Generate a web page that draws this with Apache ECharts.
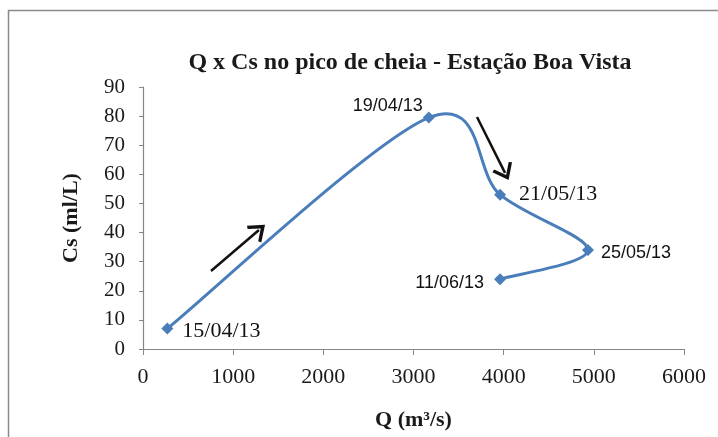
<!DOCTYPE html>
<html><head><meta charset="utf-8">
<script src="https://cdn.jsdelivr.net/npm/echarts@6/dist/echarts.min.js"></script>
<style>html,body{margin:0;padding:0;background:#fff}#c{width:718px;height:437px}</style>
</head><body><div id="c"></div>
<script>
const dates = ['15/04/13','19/04/13','21/05/13','25/05/13','11/06/13'];
const qValues = [270, 3170, 3960, 4935, 3960];
const csValues = [7, 79.5, 53, 34, 24];
const xTicks = [0,1000,2000,3000,4000,5000,6000];
const yTicks = [0,10,20,30,40,50,60,70,80,90];
const upArrow = [[754, 26.8], [1286, 40.9]];
const downArrow = [[3704, 79.7], [4015, 60.5]];

const serif = '"Liberation Serif","Times New Roman",serif';
const sans = '"Liberation Sans","Arial",sans-serif';
const lineColor = '#4a7ebb';
const labelCfg = [
  {position:'right', distance:9, offset:[0,3], fontFamily:serif, fontSize:22},
  {position:'left', distance:0, offset:[0,-12], fontFamily:sans, fontSize:18},
  {position:'right', distance:13, offset:[0,0], fontFamily:serif, fontSize:22},
  {position:'right', distance:7, offset:[0,3], fontFamily:sans, fontSize:18},
  {position:'left', distance:10, offset:[0,4], fontFamily:sans, fontSize:18}
];
const points = qValues.map((q,i)=>[q, csValues[i]]);
const labeled = points.map((p,i)=>({value:p, label:Object.assign({show:true, formatter:dates[i], color:'#111'}, labelCfg[i])}));
const chevron = 'path://M5,0 L10,8.6 L8.7,9.6 L5,3.4 L1.3,9.6 L0,8.6 Z';
function arrowLine(a){return [{coord:a[0], symbol:'none'},{coord:a[1], symbol:chevron, symbolSize:[22,16]}];}

// Excel-style smoothed curve (Catmull-Rom, tension 1/6) through the points, using the chart's own scales
function renderCurve(params, api){
  if (params.dataIndex !== 0) return null;
  const pts = points.map(p=>api.coord(p));
  const n = pts.length, children = [];
  for (let i=0;i<n-1;i++){
    const p0 = pts[Math.max(i-1,0)], p1 = pts[i], p2 = pts[i+1], p3 = pts[Math.min(i+2,n-1)];
    children.push({type:'bezierCurve', shape:{
      x1:p1[0], y1:p1[1], x2:p2[0], y2:p2[1],
      cpx1:p1[0]+(p2[0]-p0[0])/6, cpy1:p1[1]+(p2[1]-p0[1])/6,
      cpx2:p2[0]-(p3[0]-p1[0])/6, cpy2:p2[1]-(p3[1]-p1[1])/6},
      style:{stroke:lineColor, lineWidth:3, fill:'none', lineCap:'round'}});
  }
  return {type:'group', children};
}

const chart = echarts.init(document.getElementById('c'));
chart.setOption({
  backgroundColor:'#fff',
  animation:false,
  title:{text:'Q x Cs no pico de cheia - Estação Boa Vista', left:405, top:46, textAlign:'center',
    textStyle:{fontFamily:serif, fontWeight:'bold', fontSize:24, color:'#1a1a1a'}},
  grid:{left:143, right:34, top:87, bottom:88},
  graphic:[{type:'rect', shape:{x:8.5,y:10.5,width:720,height:440}, style:{fill:'none', stroke:'#8a8a8a', lineWidth:1.5}}],
  xAxis:{type:'value', min:0, max:6000, interval:1000,
    name:'Q (m³/s)', nameLocation:'middle', nameGap:60,
    nameTextStyle:{fontFamily:serif, fontWeight:'bold', fontSize:22, color:'#1a1a1a'},
    axisLine:{show:true, lineStyle:{color:'#868686', width:1.2}},
    axisTick:{show:true, length:6, lineStyle:{color:'#868686'}},
    axisLabel:{fontFamily:serif, fontSize:22, color:'#1a1a1a', margin:17, formatter:v=>String(v)},
    splitLine:{show:false}},
  yAxis:{type:'value', min:0, max:90, interval:10,
    name:'Cs (ml/L)', nameLocation:'middle', nameGap:61, nameRotate:90,
    nameTextStyle:{fontFamily:serif, fontWeight:'bold', fontSize:22, color:'#1a1a1a'},
    axisLine:{show:true, lineStyle:{color:'#868686', width:1.2}},
    axisTick:{show:true, length:4, lineStyle:{color:'#868686'}},
    axisLabel:{fontFamily:serif, fontSize:21, color:'#1a1a1a', margin:18},
    splitLine:{show:false}},
  series:[
    {type:'custom', data:points, encode:{x:0,y:1}, renderItem:renderCurve, silent:true, z:2},
    {type:'scatter', data:labeled, symbol:'diamond', symbolSize:12, z:3,
      itemStyle:{color:lineColor, opacity:1},
      markLine:{silent:true, animation:false, label:{show:false},
        lineStyle:{color:'#111', width:2.5, type:'solid', opacity:1},
        data:[arrowLine(upArrow), arrowLine(downArrow)]}}
  ]
});
</script></body></html>
